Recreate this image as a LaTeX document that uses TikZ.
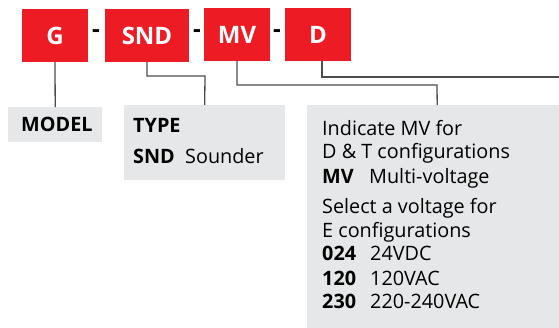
\documentclass[tikz,border=0pt]{standalone}
\usepackage{fontspec}
\setmainfont{Open Sans}
\definecolor{boxred}{HTML}{ED1C24}
\definecolor{graybg}{HTML}{E6E7E8}
\definecolor{linec}{HTML}{4D4D4D}
\begin{document}
\begin{tikzpicture}[x=1pt,y=-1pt,
  redbox/.style={fill=boxred, draw=none, inner sep=0pt, minimum height=53pt, text height=17pt, text depth=0pt, text=white, font=\bfseries\fontsize{24}{24}\selectfont},
  graybox/.style={fill=graybg, draw=none, inner sep=0pt, anchor=north west},
  txt/.style={anchor=base west, inner sep=0pt, font=\fontsize{19.8}{19.8}\selectfont},
  btxt/.style={txt, font=\bfseries\fontsize{19.8}{19.8}\selectfont},
  hyph/.style={anchor=base, inner sep=0pt, font=\bfseries\fontsize{24}{24}\selectfont},
  conn/.style={draw=linec, line width=1.3pt}
]
\useasboundingbox (0,0) rectangle (559,327);
% code boxes
\node[redbox, minimum width=66pt] (G) at (55,35.5) {G};
\node[redbox, minimum width=84pt] (SND) at (147,35.5) {SND};
\node[redbox, minimum width=66pt] (MV) at (237,34.5) {MV};
\node[redbox, minimum width=66pt] (D) at (318,34.5) {D};
\node[hyph] (h1) at (96,37) {-};
\node[hyph] (h2) at (197,37) {-};
\node[hyph] (h3) at (277,37) {-};
% gray boxes
\node[graybox, minimum width=94pt, minimum height=35pt] (model) at (8,107) {};
\node[graybox, minimum width=161pt, minimum height=75pt] (type) at (124,105) {};
\node[graybox, minimum width=260pt, minimum height=230pt] (mvbox) at (307,105) {};
% texts
\node[btxt] (tmodel) at (21,131) {MODEL};
\node[btxt] (ttype) at (133,132) {TYPE};
\node[txt] (tsnd) at (133,163) {\makebox[52pt][l]{\bfseries SND}Sounder};
\node[txt] (l1) at (322,135) {Indicate MV for};
\node[txt] (l2) at (322,158) {D \& T configurations};
\node[txt] (l3) at (322,183) {\makebox[47pt][l]{\bfseries MV}Multi-voltage};
\node[txt] (l4) at (322,213) {Select a voltage for};
\node[txt] (l5) at (322,237) {E configurations};
\node[txt] (l6) at (322,260) {\makebox[48pt][l]{\bfseries 024}24VDC};
\node[txt] (l7) at (322,285) {\makebox[48pt][l]{\bfseries 120}120VAC};
\node[txt] (l8) at (322,308) {\makebox[48pt][l]{\bfseries 230}220-240VAC};
% connectors
\coordinate (dend) at (559,77);
\draw[conn] (G.south) -- (model.north);
\draw[conn] (SND.south) |- (205,76) -- (type.north);
\draw[conn] (MV.south) |- (437,85) -- (mvbox.north);
\draw[conn] ([xshift=4pt]D.south) |- (dend);
\end{tikzpicture}
\end{document}
